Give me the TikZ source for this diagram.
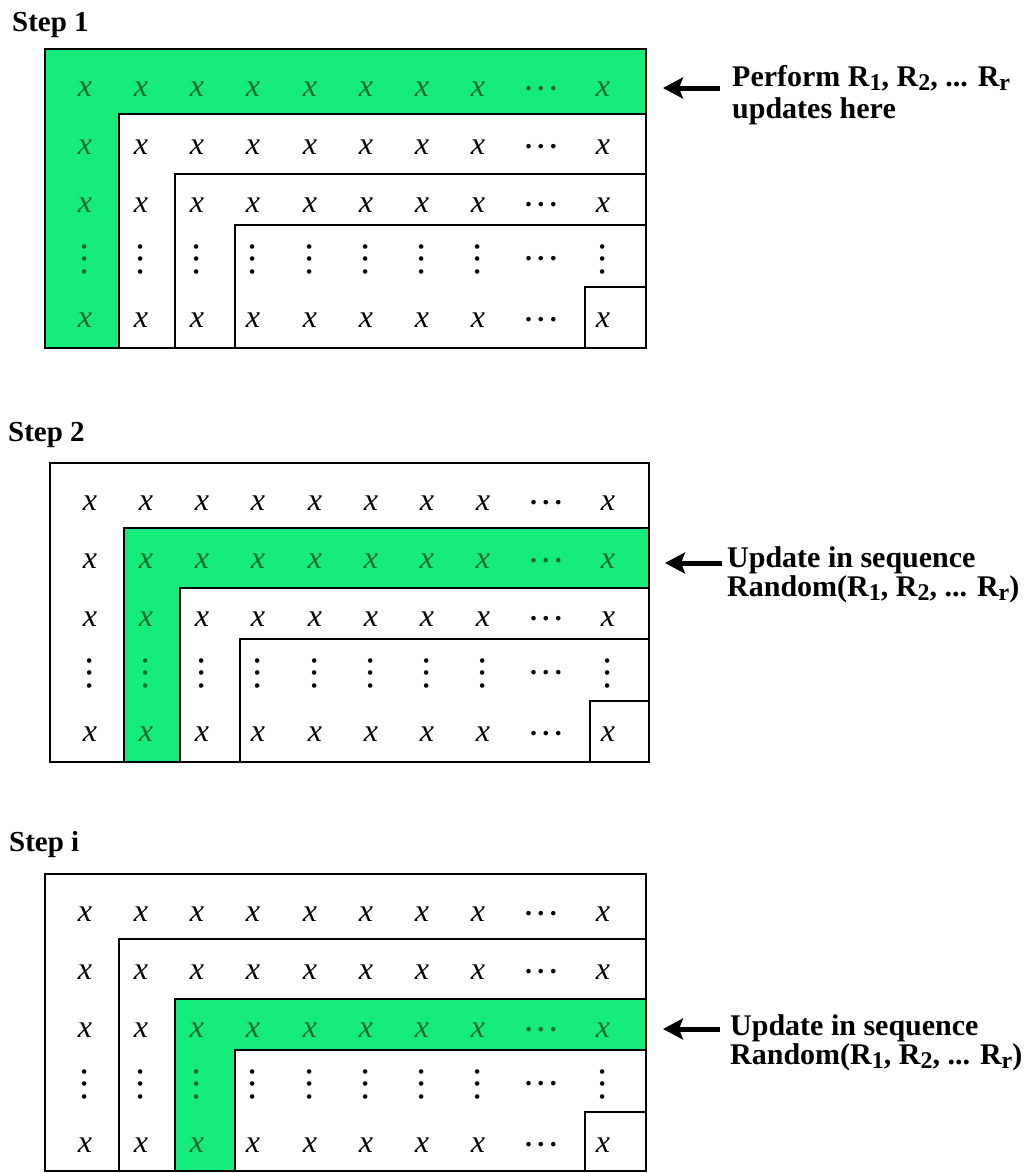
\documentclass[tikz,border=0pt]{standalone}
\usepackage{graphicx}
\usepackage{fontspec}
\setmainfont{Liberation Serif}
\usetikzlibrary{arrows.meta}
\definecolor{lgreen}{RGB}{22,236,122}
\definecolor{dgreen}{RGB}{25,105,45}

\newcommand\cdd{\hbox{.\kern5.5pt.\kern5.5pt.}}
\newcommand\vdd{\rotatebox{90}{\cdd}}
\newcommand\sbs[1]{\raisebox{-4pt}{\fontsize{24}{24}\selectfont #1}}

\tikzset{
  cell/.style={inner sep=0pt, font=\fontsize{32}{32}\selectfont\itshape},
  dotcell/.style={inner sep=0pt, font=\fontsize{28}{28}\selectfont\bfseries},
  frame/.style={line width=2pt},
  bar/.style={line width=1.7pt},
  steplabel/.style={anchor=base west, inner sep=0pt, font=\fontsize{29}{29}\selectfont\bfseries},
  note/.style={anchor=base west, inner sep=0pt, font=\fontsize{30}{30}\selectfont\bfseries},
  pointer/.style={line width=5pt, -{Stealth[length=20pt,width=21pt,inset=4pt]}},
}

% #1 name, #2 step index, #3 ox, #4 oy, #5 width, #6 height
\newcommand\panel[6]{%
\begin{scope}[shift={(#3,#4)}]
  \ifnum#2=1
    \fill[lgreen] (0,0) -- (#5,0) -- (#5,65) -- (74,65) -- (74,#6) -- (0,#6) -- cycle;
  \fi
  \ifnum#2=2
    \fill[lgreen] (74,#6) -- (74,65) -- (#5,65) -- (#5,125) -- (130,125) -- (130,#6) -- cycle;
  \fi
  \ifnum#2=3
    \fill[lgreen] (130,#6) -- (130,125) -- (#5,125) -- (#5,176) -- (190,176) -- (190,#6) -- cycle;
  \fi
  \draw[bar] (74,#6) -- (74,65) -- (#5,65);
  \draw[bar] (130,#6) -- (130,125) -- (#5,125);
  \draw[bar] (190,#6) -- (190,176) -- (#5,176);
  \draw[bar] (540,#6) -- (540,238) -- (#5,238);
  \draw[frame] (0,0) rectangle (#5,#6);
  \foreach \c/\cx in {1/40,2/96,3/152,4/208,5/265,6/321,7/377,8/433,9/496,10/558}{
    \foreach \r/\ry in {1/40,2/98,3/156,4/210,5/271}{
      \pgfmathtruncatemacro\isg{or(and(\r==#2,\c>=#2),and(\c==#2,\r>=#2))}
      \ifnum\isg=1 \def\col{dgreen}\else\def\col{black}\fi
      \ifnum\c=9
        \node[dotcell,text=\col] (#1-\r-\c) at (\cx,\ry) {\cdd};
      \else\ifnum\r=4
        \node[dotcell,text=\col] (#1-\r-\c) at (\cx,\ry) {\vdd};
      \else
        \node[cell,text=\col] (#1-\r-\c) at (\cx,\ry) {x};
      \fi\fi
    }
  }
\end{scope}}

\begin{document}
\begin{tikzpicture}[x=1pt,y=-1pt]
\fill[white] (0,0) rectangle (1035,1173);
\useasboundingbox (0,0) rectangle (1035,1173);

% Step 1
\node[steplabel] (s1) at (12,31) {Step 1};
\panel{pa}{1}{45}{49}{601}{299}
\node[note] (n1a) at (732,86) {Perform R\sbs{1}, R\sbs{2}, ... R\sbs{r}};
\node[note] (n1b) at (732,118) {updates here};
\coordinate (t1) at (720,88);
\coordinate (h1) at (663,88);
\draw[pointer] (t1) -- (h1);

% Step 2
\node[steplabel] (s2) at (8,441) {Step 2};
\panel{pb}{2}{50}{463}{599}{299}
\node[note] (n2a) at (727,567) {Update in sequence};
\node[note] (n2b) at (727,596) {Random(R\sbs{1}, R\sbs{2}, ... R\sbs{r})};
\coordinate (t2) at (722,563);
\coordinate (h2) at (665,563);
\draw[pointer] (t2) -- (h2);

% Step i
\node[steplabel] (s3) at (9,851) {Step i};
\panel{pc}{3}{45}{874}{601}{297}
\node[note] (n3a) at (730,1035) {Update in sequence};
\node[note] (n3b) at (730,1064) {Random(R\sbs{1}, R\sbs{2}, ... R\sbs{r})};
\coordinate (t3) at (720,1029);
\coordinate (h3) at (663,1029);
\draw[pointer] (t3) -- (h3);
\end{tikzpicture}
\end{document}
